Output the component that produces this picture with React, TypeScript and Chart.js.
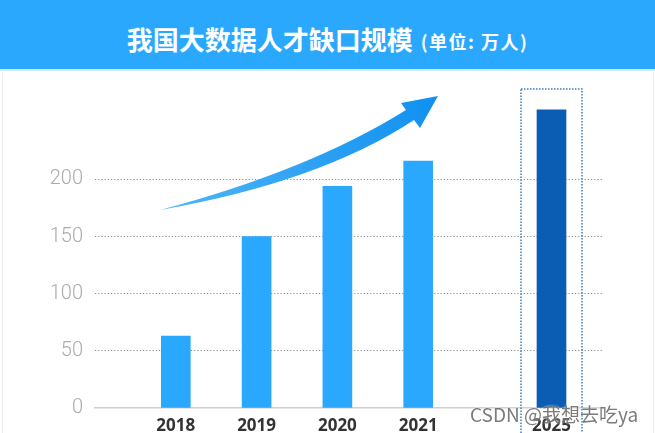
import React, { useEffect, useRef } from 'react';
import { Chart, registerables } from 'chart.js';

Chart.register(...registerables);

// ---- data ----
const years = ['2018', '2019', '2020', '2021', '2025'];
const gapValues = [63, 150, 194, 216, 261];
const yTickValues = [0, 50, 100, 150, 200];
const titleMain = '我国大数据人才缺口规模';
const titleUnit = '(单位: 万人)';
const watermark = 'CSDN @我想去吃ya';

// ---- layout / style constants ----
const FORECAST_GAP = 0.65; // extra spacing before a non-consecutive year
const X_LEFT_PAD = 1;
const X_RIGHT_PAD = 0.625;
const BAR_COLOR = '#29a8fd';
const FORECAST_COLOR = '#0b5cb3';

const positions: number[] = [];
years.forEach((y, i) => {
  if (i === 0) positions.push(0);
  else {
    const jump = Number(y) - Number(years[i - 1]) > 1 ? FORECAST_GAP : 0;
    positions.push(positions[i - 1] + 1 + jump);
  }
});

const arrowPlugin = {
  id: 'trendArrow',
  afterDatasetsDraw(chart: any) {
    const ctx = chart.ctx;
    ctx.save();
    const g = ctx.createLinearGradient(160, 210, 438, 96);
    g.addColorStop(0, '#4fb6f8');
    g.addColorStop(1, '#0f90f0');
    ctx.fillStyle = g;
    ctx.beginPath();
    ctx.moveTo(160, 210);
    ctx.quadraticCurveTo(310, 170, 406, 110);
    ctx.lineTo(401, 103);
    ctx.lineTo(438, 96);
    ctx.lineTo(420, 128);
    ctx.lineTo(414, 120);
    ctx.quadraticCurveTo(320, 182, 160, 210);
    ctx.closePath();
    ctx.fill();
    ctx.restore();
  },
};

const boxPlugin = {
  id: 'forecastBox',
  afterDraw(chart: any) {
    const { ctx, scales } = chart;
    const last = positions.length - 1;
    const cx = scales.x.getPixelForValue(positions[last]);
    const top = scales.y.getPixelForValue(scales.y.max) + 1;
    ctx.save();
    ctx.strokeStyle = '#3f7db8';
    ctx.lineWidth = 1.5;
    ctx.setLineDash([1.5, 1.5]);
    ctx.strokeRect(cx - 30.5, top, 61, chart.height - top + 10);
    ctx.restore();
  },
};

export default function App() {
  const ref = useRef<HTMLCanvasElement | null>(null);

  useEffect(() => {
    if (!ref.current) return;
    const chart = new Chart(ref.current, {
      type: 'bar',
      data: {
        datasets: [
          {
            data: positions.map((p, i) => ({ x: p, y: gapValues[i] })),
            backgroundColor: years.map((_, i) => (i === years.length - 1 ? FORECAST_COLOR : BAR_COLOR)),
            barThickness: 29,
          },
        ],
      },
      options: {
        responsive: false,
        devicePixelRatio: 1,
        animation: false,
        layout: { padding: { top: 88, right: 53, bottom: 0, left: 0 } },
        plugins: { legend: { display: false }, tooltip: { enabled: false }, title: { display: false } },
        scales: {
          x: {
            type: 'linear',
            offset: false,
            min: positions[0] - X_LEFT_PAD,
            max: positions[positions.length - 1] + X_RIGHT_PAD,
            afterBuildTicks: (scale: any) => {
              scale.ticks = positions.map((v) => ({ value: v }));
            },
            afterFit: (scale: any) => {
              scale.height = 25;
            },
            ticks: {
              autoSkip: false,
              maxRotation: 0,
              padding: 0,
              color: '#333333',
              font: { family: 'Noto Sans', size: 17, weight: 'bold' },
              callback: (v: any) => {
                const idx = positions.findIndex((p) => Math.abs(p - Number(v)) < 1e-6);
                return idx >= 0 ? years[idx] : '';
              },
            },
            grid: { display: false },
            border: { display: true, color: '#cfcfcf', width: 1.5 },
          },
          y: {
            min: 0,
            max: 280,
            afterBuildTicks: (scale: any) => {
              scale.ticks = yTickValues.map((v) => ({ value: v }));
            },
            afterFit: (scale: any) => {
              scale.width = 95;
            },
            ticks: {
              padding: 12,
              color: '#ababab',
              font: { family: 'Roboto', size: 20, weight: '300' },
            },
            grid: {
              color: (c: any) => (c.tick && c.tick.value > 0 ? '#8f8f8f' : 'rgba(0,0,0,0)'),
              lineWidth: 1,
              drawTicks: false,
            },
            border: { display: false, dash: [1.2, 2] },
          },
        },
      } as any,
      plugins: [arrowPlugin, boxPlugin],
    });
    return () => chart.destroy();
  }, []);

  return (
    <div style={{ position: 'fixed', left: 0, top: 0, width: 655, height: 433, background: '#ffffff', overflow: 'hidden' }}>
      <canvas ref={ref} width={655} height={433} style={{ position: 'absolute', left: 0, top: 0, width: 655, height: 433 }} />
      <div style={{ position: 'absolute', left: 2, top: 73, width: 650, height: 360, borderLeft: '1px solid #ececec', borderRight: '1px solid #ececec' }} />
      <div
        style={{
          position: 'absolute', left: 0, top: 0, width: 655, height: 71,
          background: '#2aa8fd', borderBottom: '2px solid #d3ebfb',
          display: 'flex', alignItems: 'center', justifyContent: 'center',
          paddingTop: 8, boxSizing: 'border-box',
          color: '#ffffff', fontFamily: '"Noto Sans CJK SC", "Noto Sans", sans-serif', fontWeight: 'bold',
        }}
      >
        <span style={{ fontSize: 26 }}>{titleMain}</span>
        <span style={{ fontSize: 18, marginLeft: 8, marginTop: 4, letterSpacing: 1.5 }}>{titleUnit}</span>
      </div>
      <div
        style={{
          position: 'absolute', left: 470, top: 400, fontSize: 19, color: 'rgba(90,90,90,0.8)',
          fontFamily: '"Noto Sans CJK SC", "Noto Sans", sans-serif', whiteSpace: 'nowrap',
          textShadow: '0 0 2px #ffffff',
        }}
      >
        {watermark}
      </div>
    </div>
  );
}
